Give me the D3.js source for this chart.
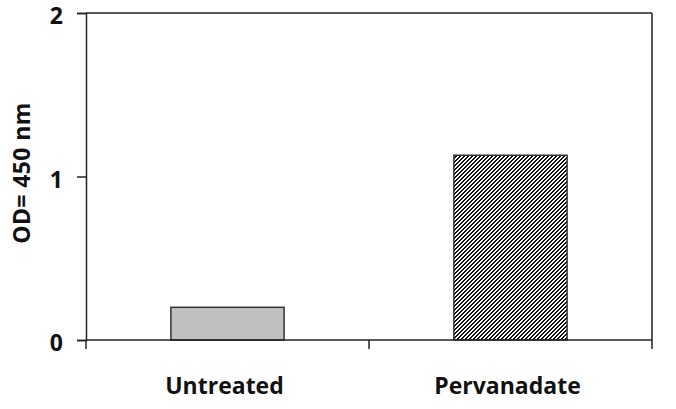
<!DOCTYPE html>
<html>
<head>
<meta charset="utf-8">
<script src="https://cdn.jsdelivr.net/npm/d3@7"></script>
<style>
  html, body { margin: 0; padding: 0; background: #fff; }
  text { font-family: "Open Sans", Lato, sans-serif; font-weight: bold; fill: #111; }
</style>
</head>
<body>
<svg id="chart" width="676" height="409"></svg>
<script>
const categories = ["Untreated", "Pervanadate"];
const values = [0.20, 1.13];
const yTicks = [0, 1, 2];
const yLabel = "OD= 450 nm";

const svg = d3.select("#chart");
const mLeft = 86, mRight = 652, mTop = 13, mBottom = 340;

const x = d3.scaleBand().domain(categories).range([mLeft, mRight])
  .paddingInner(0.6).paddingOuter(0.3);
const y = d3.scaleLinear().domain([0, 2]).range([mBottom, mTop]);

// "/" hatch: 4x4 pixel tile, two dark pixels per row shifting left each row
const defs = svg.append("defs");
const pat = defs.append("pattern").attr("id", "hatch")
  .attr("patternUnits", "userSpaceOnUse").attr("width", 4).attr("height", 4);
pat.append("rect").attr("width", 4).attr("height", 4).attr("fill", "#fff");
d3.range(4).forEach(r => {
  [3 - r, 4 - r].forEach(c => {
    pat.append("rect").attr("x", ((c % 4) + 4) % 4).attr("y", r)
      .attr("width", 1).attr("height", 1).attr("fill", "#111")
      .attr("shape-rendering", "crispEdges");
  });
});

// plot frame: top and right
svg.append("line").attr("x1", mLeft).attr("x2", mRight).attr("y1", mTop).attr("y2", mTop)
  .attr("stroke", "#222").attr("stroke-width", 1.5);
svg.append("line").attr("x1", mRight).attr("x2", mRight).attr("y1", mTop).attr("y2", mBottom)
  .attr("stroke", "#444").attr("stroke-width", 1.8);

// bars
const fills = ["#c0c0c0", "url(#hatch)"];
svg.selectAll("rect.bar").data(categories).enter().append("rect")
  .attr("class", "bar")
  .attr("x", d => x(d))
  .attr("width", x.bandwidth())
  .attr("y", (d, i) => y(values[i]))
  .attr("height", (d, i) => y(0) - y(values[i]))
  .attr("fill", (d, i) => fills[i])
  .attr("stroke", "#333").attr("stroke-width", 1.5);

// y axis
const yAxis = d3.axisLeft(y).tickValues(yTicks).tickFormat(d3.format("d"))
  .tickSize(9).tickPadding(14);
const gy = svg.append("g").attr("transform", `translate(${mLeft},0)`).call(yAxis);
gy.select(".domain").attr("stroke", "#222").attr("stroke-width", 1.5);
gy.selectAll(".tick line").attr("stroke", "#222").attr("stroke-width", 1.5);
gy.selectAll(".tick text").style("font-size", "23px").style("font-family", "'Open Sans', sans-serif")
  .style("font-weight", "bold").attr("fill", "#111").attr("dy", "0.46em");

// x axis with ticks at category boundaries
const boundaries = d3.range(categories.length + 1).map(i => mLeft + i * (mRight - mLeft) / categories.length);
svg.append("line").attr("x1", mLeft).attr("x2", mRight).attr("y1", mBottom).attr("y2", mBottom)
  .attr("stroke", "#222").attr("stroke-width", 1.5);
svg.selectAll("line.xtick").data(boundaries).enter().append("line")
  .attr("class", "xtick")
  .attr("x1", d => d).attr("x2", d => d).attr("y1", mBottom).attr("y2", mBottom + 9)
  .attr("stroke", "#222").attr("stroke-width", 1.5);

svg.selectAll("text.xlab").data(categories).enter().append("text")
  .attr("class", "xlab")
  .attr("x", d => x(d) + x.bandwidth() / 2 - 3)
  .attr("y", 394)
  .attr("text-anchor", "middle")
  .style("font-size", "23px")
  .text(d => d);

svg.append("text")
  .attr("transform", "translate(30,173) rotate(-90)")
  .attr("text-anchor", "middle")
  .style("font-size", "23px")
  .style("letter-spacing", "0.4px")
  .text(yLabel);
</script>
</body>
</html>
